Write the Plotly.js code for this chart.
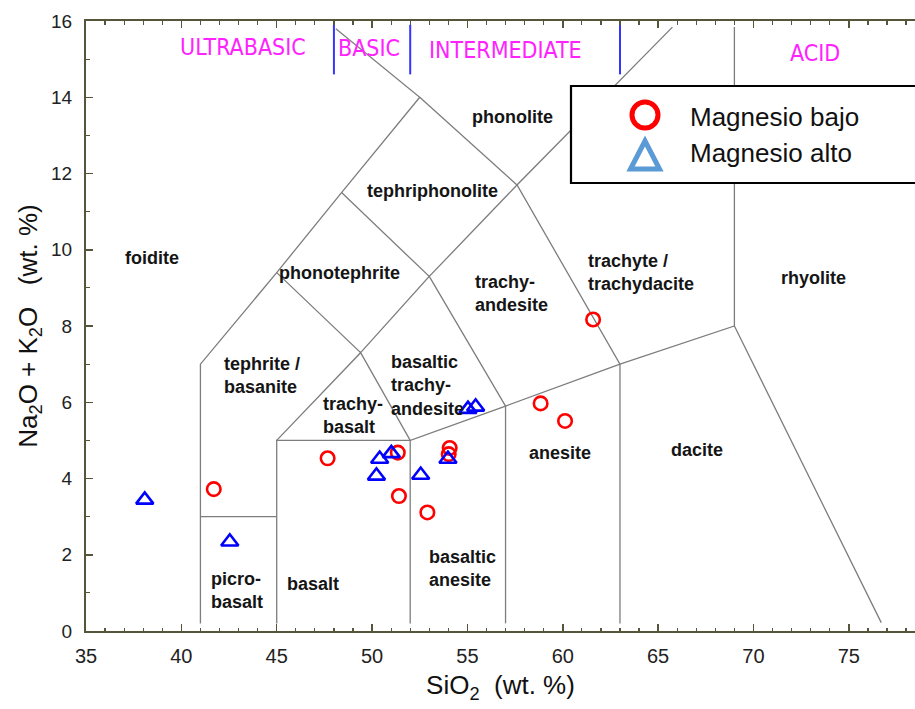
<!DOCTYPE html>
<html><head><meta charset="utf-8">
<script src="https://cdn.plot.ly/plotly-3.0.1.min.js"></script>
<style>html,body{margin:0;padding:0;background:#fff}#chart{width:915px;height:709px}</style>
</head><body><div id="chart"></div>
<script>
// ---- sample data (SiO2 wt.% vs Na2O+K2O wt.%) ----
const lowMgName = 'Magnesio bajo';
const lowMgSiO2 = [41.70, 47.67, 51.35, 51.41, 52.90, 54.07, 54.02, 58.84, 60.12, 61.59];
const lowMgAlk  = [3.72, 4.53, 4.68, 3.54, 3.11, 4.80, 4.64, 5.97, 5.51, 8.17];
const highMgName = 'Magnesio alto';
const highMgSiO2 = [38.08, 42.54, 50.40, 50.23, 51.01, 52.55, 53.98, 55.03, 55.43];
const highMgAlk  = [3.44, 2.34, 4.51, 4.07, 4.66, 4.09, 4.51, 5.82, 5.88];

// ---- TAS field boundaries (null separates polylines) ----
const boundaryX = [41,41,45,48.4,52.5,48.1, null, 41,45, null, 45,45,52, null,
  52,52,57,63,69,76.7, null, 57,57, null, 63,63,57.6,65.75, null, 69,69, null,
  45,49.4,52, null, 45,49.4,53,57, null, 48.4,53,57.6, null, 52.5,57.6];
const boundaryY = [0.2,7,9.4,11.5,14,15.8, null, 3,3, null, 0.2,5,5, null,
  0.2,5,5.9,7,8,0.22, null, 0.2,5.9, null, 0.2,7,11.7,15.84, null, 8,15.84, null,
  5,7.3,5, null, 9.4,7.3,9.3,5.9, null, 11.5,9.3,11.7, null, 14,11.7];

// ---- silica class dividers ----
const dividerX = [48,48,null,52,52,null,63,63];
const dividerY = [14.6,15.9,null,14.6,15.9,null,14.6,15.9];

// ---- field names ----
const fieldNames = ['phonolite','tephriphonolite','foidite','phonotephrite','trachy-<br>andesite',
  'trachyte /<br>trachydacite','rhyolite','tephrite /<br>basanite','basaltic<br>trachy-<br>andesite',
  'trachy-<br>basalt','anesite','dacite','picro-<br>basalt','basalt','basaltic<br>anesite'];
const fieldX = [57.38,53.18,38.45,48.30,57.32,64.09,73.16,44.22,52.92,48.99,59.84,67.02,42.90,46.89,54.75];
const fieldY = [13.48,11.54,9.78,9.39,8.86,9.41,9.26,6.71,6.45,5.66,4.66,4.74,1.07,1.23,1.65];

// ---- silica classes ----
const classNames = ['ULTRABASIC','BASIC','INTERMEDIATE','ACID'];
const classX = [43.23,49.83,57.01,73.21];
const classY = [15.32,15.29,15.24,15.16];

const axisColor = '#55553a';
const tickFont = {family:'Liberation Sans Narrow, Arial Narrow, Liberation Sans, Arial, sans-serif', size:20, color:'#222'};

const traces = [
  {x: boundaryX, y: boundaryY, type:'scatter', mode:'lines', line:{color:'#7d7d7d', width:1.3},
   hoverinfo:'skip', showlegend:false, connectgaps:false},
  {x: dividerX, y: dividerY, type:'scatter', mode:'lines', line:{color:'#3535ff', width:2},
   hoverinfo:'skip', showlegend:false, connectgaps:false},
  {x: lowMgSiO2, y: lowMgAlk, name: lowMgName, type:'scatter', mode:'markers',
   marker:{symbol:'circle-open', size:13.5, color:'#ff0000', line:{width:2.6, color:'#ff0000'}}},
  {x: highMgSiO2, y: highMgAlk, name: highMgName, type:'scatter', mode:'markers',
   marker:{symbol:'triangle-up-open', size:15, color:'#0000ff', line:{width:2.6, color:'#0000ff'}}}
];

const annotations = [];
fieldNames.forEach((t,i)=>annotations.push({x:fieldX[i], y:fieldY[i], xref:'x', yref:'y', text:t,
  showarrow:false, xanchor:'center', yanchor:'middle', align:'left',
  font:{family:'Liberation Sans, Arial, sans-serif', size:18, color:'#151515', weight:'bold'}}));
classNames.forEach((t,i)=>annotations.push({x:classX[i], y:classY[i], xref:'x', yref:'y', text:t,
  showarrow:false, xanchor:'center', yanchor:'middle',
  font:{family:'Liberation Sans Narrow, Arial Narrow, DejaVu Sans Condensed, sans-serif', size:23, color:'#ff22ff'}}));

// legend drawn by hand (pixel helpers -> paper coords)
const L = 86, W = 829, B = 631, H = 610;
const px = v => (v - L) / W;
const py = v => (B - v) / H;
const legendFont = {family:'Liberation Sans, Arial, sans-serif', size:26, color:'#111'};
annotations.push({x:px(688), y:py(117), xref:'paper', yref:'paper', text:lowMgName, showarrow:false,
  xanchor:'left', yanchor:'middle', font:legendFont});
annotations.push({x:px(688), y:py(153), xref:'paper', yref:'paper', text:highMgName, showarrow:false,
  xanchor:'left', yanchor:'middle', font:legendFont});

const shapes = [
  {type:'rect', xref:'paper', yref:'paper', x0:px(571), x1:px(930), y0:py(183), y1:py(86),
   fillcolor:'#ffffff', line:{color:'#000', width:2.2}, layer:'above'},
  {type:'circle', xref:'paper', yref:'paper', x0:px(632), x1:px(658), y0:py(128), y1:py(102),
   line:{color:'#ff0000', width:5}, layer:'above'},
  {type:'path', xref:'paper', yref:'paper',
   path:`M ${px(645)} ${py(141)} L ${px(659.5)} ${py(169)} L ${px(630.5)} ${py(169)} Z`,
   line:{color:'#5b9bd5', width:5}, layer:'above'}
];

const layout = {
  width:915, height:709,
  margin:{l:86, r:0, t:21, b:78, pad:0},
  paper_bgcolor:'#fff', plot_bgcolor:'#fff',
  showlegend:false,
  xaxis:{range:[35,78.47], tick0:35, dtick:5, ticks:'inside', ticklen:7, tickwidth:1.5,
    tickcolor:axisColor, showline:true, linecolor:axisColor, linewidth:2, mirror:'ticks',
    showgrid:false, zeroline:false,
    minor:{dtick:1, ticks:'inside', ticklen:3.5, tickwidth:1.2, tickcolor:axisColor, showgrid:false},
    tickfont:tickFont, ticklabelstandoff:6,
    title:{text:'SiO<sub>2</sub>&nbsp; (wt. %)', font:{family:'Liberation Sans Narrow, Arial Narrow, Liberation Sans, sans-serif', size:26, color:'#111'}, standoff:10}},
  yaxis:{range:[0,16], tick0:0, dtick:2, ticks:'inside', ticklen:7, tickwidth:1.5,
    tickcolor:axisColor, showline:true, linecolor:axisColor, linewidth:2, mirror:false,
    showgrid:false, zeroline:false,
    minor:{dtick:1, ticks:'inside', ticklen:3.5, tickwidth:1.2, tickcolor:axisColor, showgrid:false},
    tickfont:{family:'Liberation Sans, Arial, sans-serif', size:19, color:'#222'}, ticklabelstandoff:8,
    title:{text:'Na<sub>2</sub>O + K<sub>2</sub>O&nbsp;&nbsp; (wt. %)', font:{family:'Liberation Sans, Arial, sans-serif', size:26, color:'#111'}, standoff:6}},
  annotations, shapes
};

Plotly.newPlot('chart', traces, layout, {displayModeBar:false, staticPlot:true});
</script></body></html>
